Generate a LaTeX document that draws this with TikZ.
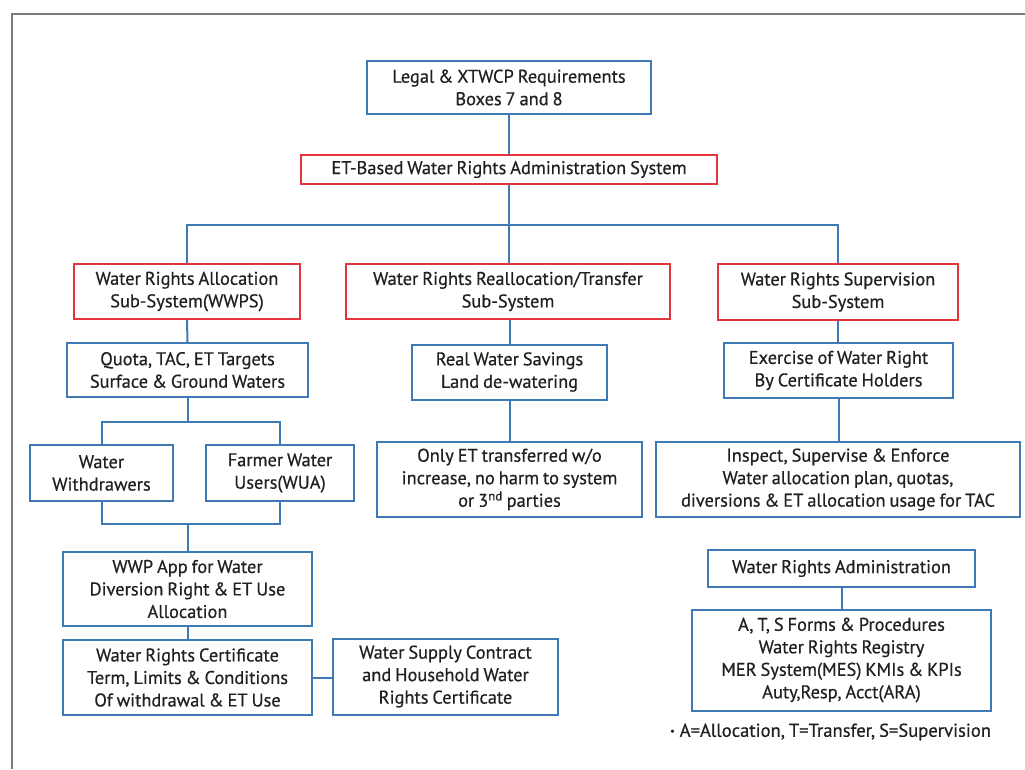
\documentclass[tikz,border=0pt]{standalone}
\usepackage{fontspec}
\setmainfont{PT Sans}[WordSpace=0.8, FakeBold=0.5]
\definecolor{bblue}{RGB}{62,122,182}
\definecolor{rred}{RGB}{228,52,62}
\definecolor{frameg}{RGB}{125,125,125}
\definecolor{txt}{RGB}{35,31,32}
\tikzset{
  base/.style={line width=2pt, align=center, inner sep=0pt, text=txt,
    font=\fontsize{18.4}{22.5}\selectfont, fill=white},
  bbox/.style={base, draw=bblue},
  rbox/.style={base, draw=rred},
  conn/.style={draw=bblue, line width=2pt},
  plain/.style={inner sep=0pt, text=txt, font=\fontsize{18.6}{22.5}\selectfont}
}
\begin{document}
\begin{tikzpicture}[x=1pt,y=-1pt]
\useasboundingbox (0,0) rectangle (1025,769);
\fill[white] (0,0) rectangle (1025,769);
% frame
\draw[frameg, line width=2.4pt] (12,769) -- (12,14) -- (1025,14);
% nodes
\node[bbox, minimum width=284pt, minimum height=53pt] (legal) at (509,87.5) {Legal \& XTWCP Requirements\\Boxes 7 and 8};
\node[rbox, minimum width=416pt, minimum height=29pt] (et) at (509,169.5) {ET-Based Water Rights Administration System};
\node[rbox, minimum width=226pt, minimum height=55pt] (alloc) at (187,291.5) {Water Rights Allocation\\Sub-System(WWPS)};
\node[rbox, minimum width=324pt, minimum height=55pt] (realloc) at (508,291.5) {Water Rights Reallocation/Transfer\\Sub-System};
\node[rbox, minimum width=240pt, minimum height=56pt] (superv) at (838,292) {Water Rights Supervision\\Sub-System};
\node[bbox, minimum width=241pt, minimum height=54pt] (quota) at (187.5,370) {Quota, TAC, ET Targets\\Surface \& Ground Waters};
\node[bbox, minimum width=195pt, minimum height=55pt] (rws) at (509.5,372) {Real Water Savings\\Land de-watering};
\node[bbox, minimum width=229pt, minimum height=55pt] (exer) at (838.5,370.5) {Exercise of Water Right\\By Certificate Holders};
\node[bbox, minimum width=143pt, minimum height=56pt] (withd) at (101.5,473) {Water\\Withdrawers};
\node[bbox, minimum width=148pt, minimum height=56pt] (farmer) at (280,473) {Farmer Water\\Users(WUA)};
\node[bbox, minimum width=265pt, minimum height=75pt] (onlyet) at (509.5,479.5) {Only ET transferred w/o\\increase, no harm to system\\or 3\textsuperscript{nd} parties};
\node[bbox, minimum width=364pt, minimum height=75pt] (inspect) at (838,479.5) {Inspect, Supervise \& Enforce\\Water allocation plan, quotas,\\diversions \& ET allocation usage for TAC};
\node[bbox, minimum width=249pt, minimum height=74pt] (wwp) at (187.5,589) {WWP App for Water\\Diversion Right \& ET Use\\Allocation};
\node[bbox, minimum width=249pt, minimum height=75pt] (cert) at (187.5,677.5) {Water Rights Certificate\\Term, Limits \& Conditions\\Of withdrawal \& ET Use};
\node[bbox, minimum width=225pt, minimum height=76pt] (supply) at (445.5,676.5) {Water Supply Contract\\and Household Water\\Rights Certificate};
\node[bbox, minimum width=267pt, minimum height=37pt] (wra) at (841.5,568.5) {Water Rights Administration};
\node[bbox, minimum width=299pt, minimum height=101pt] (ats) at (841.5,660) {A, T, S Forms \& Procedures\\Water Rights Registry\\MER System(MES) KMIs \& KPIs\\Auty,Resp, Acct(ARA)};
\node[plain, anchor=west] (note) at (670,732) {\raisebox{2.5pt}{\fontsize{10}{10}\selectfont\textbullet}\hspace{5pt}A=Allocation, T=Transfer, S=Supervision};
% coordinates
\coordinate (bus) at (509,225);
\coordinate (j1) at (187.5,422);
\coordinate (j2) at (187.5,524);
% connectors
\draw[conn] (legal.south) -- (et.north);
\draw[conn] (et.south) -- (realloc.north -| et.south);
\draw[conn] (alloc.north) |- (bus) -| (superv.north);
\draw[conn] (alloc.south) -- (quota.north);
\draw[conn] (quota.south) -- (j1);
\draw[conn] (withd.north) |- (j1) -| (farmer.north);
\draw[conn] (withd.south) |- (j2) -| (farmer.south);
\draw[conn] (j2) -- (wwp.north);
\draw[conn] (wwp.south) -- (cert.north);
\draw[conn] (cert.east) -- (cert.east -| supply.west);
\draw[conn] (realloc.south -| rws.north) -- (rws.north);
\draw[conn] (rws.south) -- (onlyet.north -| rws.south);
\draw[conn] (superv.south) -- (exer.north -| superv.south);
\draw[conn] (exer.south) -- (inspect.north -| exer.south);
\draw[conn] (wra.south) -- (ats.north);
\end{tikzpicture}
\end{document}
